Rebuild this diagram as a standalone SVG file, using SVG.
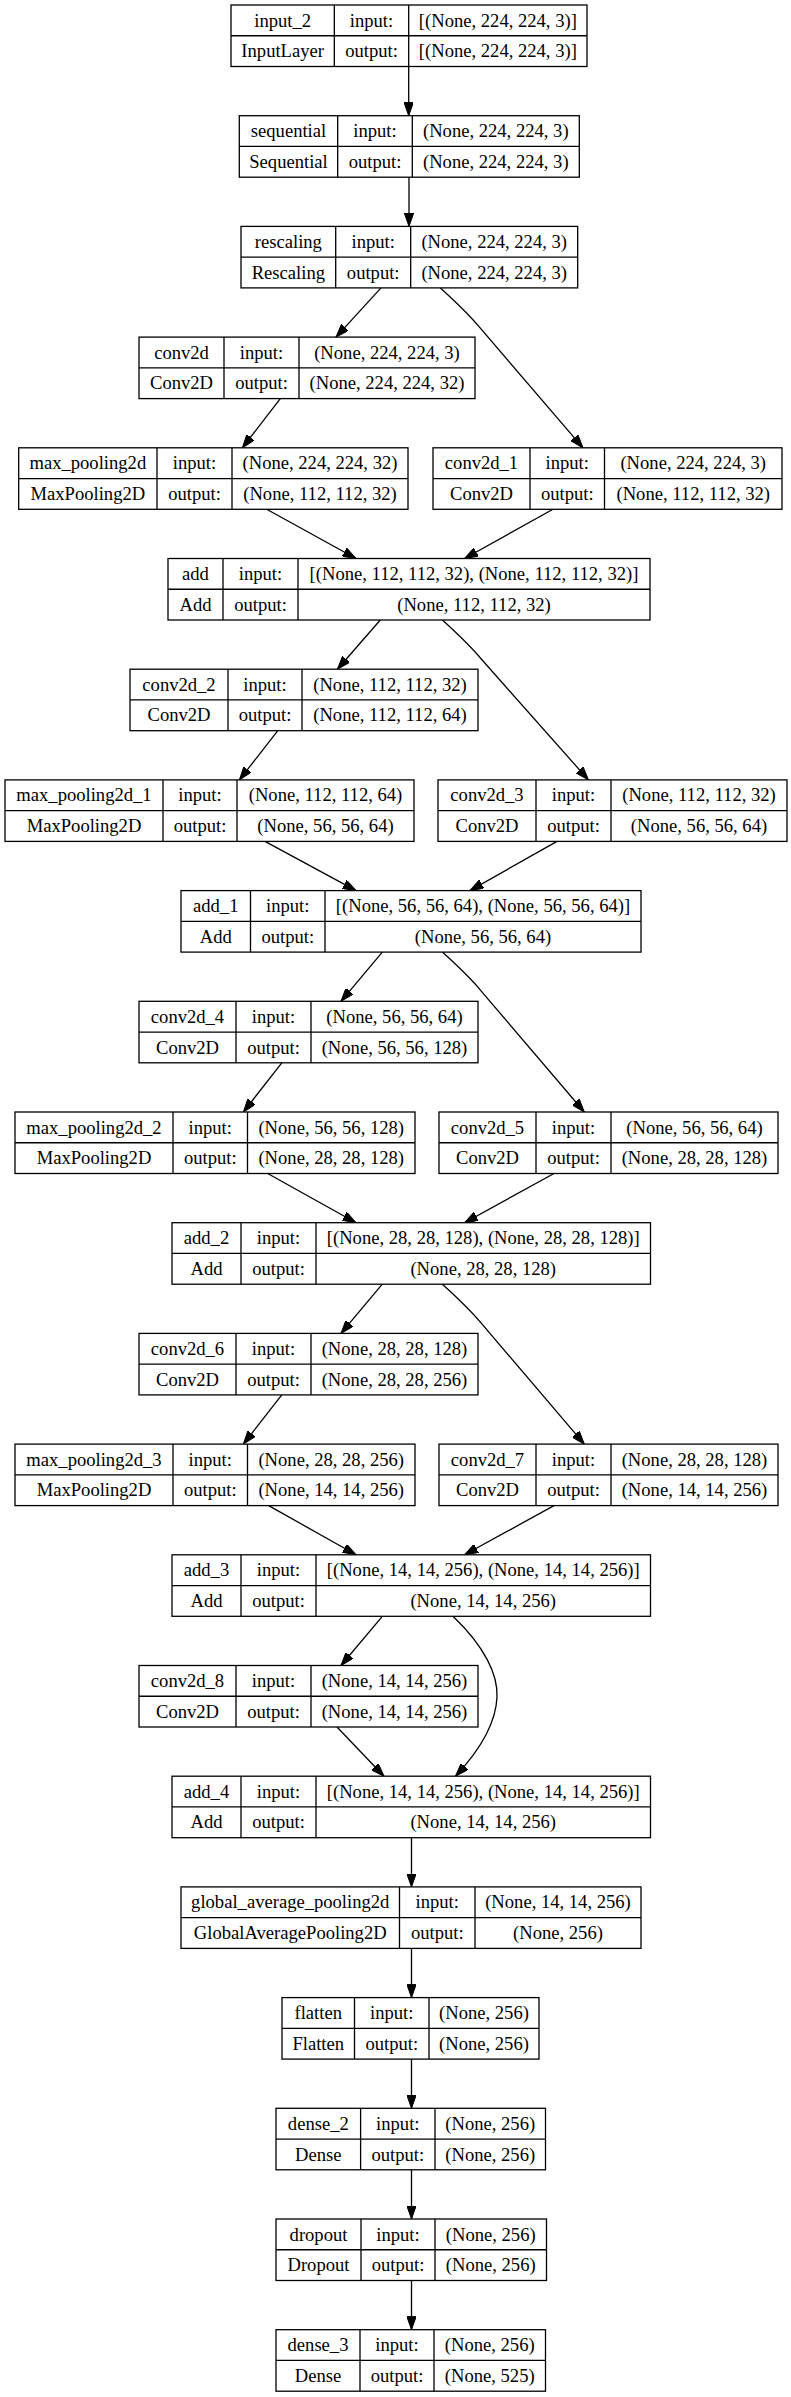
<svg xmlns="http://www.w3.org/2000/svg" width="791" height="2397" viewBox="0 0 791 2397">
<style>
.b{fill:#fff;stroke:#000;stroke-width:1.3}
.l{stroke:#000;stroke-width:1.3;fill:none}
text{font-family:"Liberation Serif","Times New Roman",serif;font-size:18.6px;text-anchor:middle;fill:#000}
.e{fill:none;stroke:#000;stroke-width:1.3;marker-end:url(#a)}
</style>
<defs>
<marker id="a" viewBox="0 0 13.3 9.4" refX="13.3" refY="4.7" markerWidth="13.3" markerHeight="9.4" markerUnits="userSpaceOnUse" orient="auto">
<path d="M0,0 L13.3,4.7 L0,9.4 z" fill="#000" stroke="#000" stroke-width="1"/>
</marker>
</defs>
<rect width="791" height="2397" fill="#fff"/>
<g id="connectors">
<path class="e" d="M408.7,66.5 L408.7,115.7"/>
<path class="e" d="M409,177.2 L409,226.4"/>
<path class="e" d="M381,287.9 L336,337.1"/>
<path class="e" d="M440.4,287.9 C462.4,307.9 468.4,313.9 478.4,325.9 L583,447.8"/>
<path class="e" d="M280.3,398.6 L242.4,447.8"/>
<path class="e" d="M266.7,509.3 L356,558.5"/>
<path class="e" d="M553,509.3 L464.6,558.5"/>
<path class="e" d="M380.3,620 L337.4,669.2"/>
<path class="e" d="M442.4,620 C464.4,640 470.4,646 480.4,658 L588.4,779.9"/>
<path class="e" d="M277.8,730.7 L239.4,779.9"/>
<path class="e" d="M265,841.4 L356,890.6"/>
<path class="e" d="M557,841.4 L470,890.6"/>
<path class="e" d="M382.3,952.1 L341,1001.3"/>
<path class="e" d="M442.4,952.1 C464.4,972.1 470.4,978.1 480.4,990.1 L584.3,1112"/>
<path class="e" d="M281.8,1062.8 L243.4,1112"/>
<path class="e" d="M267.7,1173.5 L356,1222.7"/>
<path class="e" d="M554,1173.5 L464.6,1222.7"/>
<path class="e" d="M382.3,1284.2 L341,1333.4"/>
<path class="e" d="M442.4,1284.2 C464.4,1304.2 470.4,1310.2 480.4,1322.2 L584.3,1444.1"/>
<path class="e" d="M281.8,1394.9 L243.4,1444.1"/>
<path class="e" d="M268.7,1505.6 L356,1554.8"/>
<path class="e" d="M554,1505.6 L464.6,1554.8"/>
<path class="e" d="M382.3,1616.3 L341,1665.5"/>
<path class="e" d="M453,1616.3 C485,1647 498,1675 497,1697 C496,1722 480,1750 455.5,1776.2"/>
<path class="e" d="M337,1727 L384,1776.2"/>
<path class="e" d="M411.5,1837.7 L411.5,1886.9"/>
<path class="e" d="M411.5,1948.4 L411.5,1997.6"/>
<path class="e" d="M411.5,2059.1 L411.5,2108.3"/>
<path class="e" d="M411.5,2169.8 L411.5,2219"/>
<path class="e" d="M411.5,2280.5 L411.5,2329.7"/>
</g>
<g id="input_2" transform="translate(0,5)">
<rect class="b" x="231" y="0" width="356" height="61.5"/>
<path class="l" d="M231,30.75 H587 M334.3,0 V61.5 M408.7,0 V61.5"/>
<text x="282.65" y="21.5">input_2</text><text x="371.5" y="21.5">input:</text><text x="497.85" y="21.5">[(None, 224, 224, 3)]</text>
<text x="282.65" y="52.3">InputLayer</text><text x="371.5" y="52.3">output:</text><text x="497.85" y="52.3">[(None, 224, 224, 3)]</text>
</g>
<g id="sequential" transform="translate(0,115.7)">
<rect class="b" x="239.3" y="0" width="340" height="61.5"/>
<path class="l" d="M239.3,30.75 H579.3 M337.7,0 V61.5 M412.3,0 V61.5"/>
<text x="288.5" y="21.5">sequential</text><text x="375" y="21.5">input:</text><text x="495.8" y="21.5">(None, 224, 224, 3)</text>
<text x="288.5" y="52.3">Sequential</text><text x="375" y="52.3">output:</text><text x="495.8" y="52.3">(None, 224, 224, 3)</text>
</g>
<g id="rescaling" transform="translate(0,226.4)">
<rect class="b" x="241" y="0" width="336.7" height="61.5"/>
<path class="l" d="M241,30.75 H577.7 M335.7,0 V61.5 M410.7,0 V61.5"/>
<text x="288.35" y="21.5">rescaling</text><text x="373.2" y="21.5">input:</text><text x="494.2" y="21.5">(None, 224, 224, 3)</text>
<text x="288.35" y="52.3">Rescaling</text><text x="373.2" y="52.3">output:</text><text x="494.2" y="52.3">(None, 224, 224, 3)</text>
</g>
<g id="conv2d" transform="translate(0,337.1)">
<rect class="b" x="139" y="0" width="336" height="61.5"/>
<path class="l" d="M139,30.75 H475 M224,0 V61.5 M299,0 V61.5"/>
<text x="181.5" y="21.5">conv2d</text><text x="261.5" y="21.5">input:</text><text x="387" y="21.5">(None, 224, 224, 3)</text>
<text x="181.5" y="52.3">Conv2D</text><text x="261.5" y="52.3">output:</text><text x="387" y="52.3">(None, 224, 224, 32)</text>
</g>
<g id="max_pooling2d" transform="translate(0,447.8)">
<rect class="b" x="18.7" y="0" width="389.3" height="61.5"/>
<path class="l" d="M18.7,30.75 H408 M157,0 V61.5 M232,0 V61.5"/>
<text x="87.85" y="21.5">max_pooling2d</text><text x="194.5" y="21.5">input:</text><text x="320" y="21.5">(None, 224, 224, 32)</text>
<text x="87.85" y="52.3">MaxPooling2D</text><text x="194.5" y="52.3">output:</text><text x="320" y="52.3">(None, 112, 112, 32)</text>
</g>
<g id="conv2d_1" transform="translate(0,447.8)">
<rect class="b" x="433" y="0" width="349" height="61.5"/>
<path class="l" d="M433,30.75 H782 M530,0 V61.5 M604.5,0 V61.5"/>
<text x="481.5" y="21.5">conv2d_1</text><text x="567.25" y="21.5">input:</text><text x="693.25" y="21.5">(None, 224, 224, 3)</text>
<text x="481.5" y="52.3">Conv2D</text><text x="567.25" y="52.3">output:</text><text x="693.25" y="52.3">(None, 112, 112, 32)</text>
</g>
<g id="add" transform="translate(0,558.5)">
<rect class="b" x="168" y="0" width="482" height="61.5"/>
<path class="l" d="M168,30.75 H650 M223,0 V61.5 M298,0 V61.5"/>
<text x="195.5" y="21.5">add</text><text x="260.5" y="21.5">input:</text><text x="474" y="21.5">[(None, 112, 112, 32), (None, 112, 112, 32)]</text>
<text x="195.5" y="52.3">Add</text><text x="260.5" y="52.3">output:</text><text x="474" y="52.3">(None, 112, 112, 32)</text>
</g>
<g id="conv2d_2" transform="translate(0,669.2)">
<rect class="b" x="130" y="0" width="348" height="61.5"/>
<path class="l" d="M130,30.75 H478 M228,0 V61.5 M302,0 V61.5"/>
<text x="179" y="21.5">conv2d_2</text><text x="265" y="21.5">input:</text><text x="390" y="21.5">(None, 112, 112, 32)</text>
<text x="179" y="52.3">Conv2D</text><text x="265" y="52.3">output:</text><text x="390" y="52.3">(None, 112, 112, 64)</text>
</g>
<g id="max_pooling2d_1" transform="translate(0,779.9)">
<rect class="b" x="5" y="0" width="409" height="61.5"/>
<path class="l" d="M5,30.75 H414 M163,0 V61.5 M237,0 V61.5"/>
<text x="84" y="21.5">max_pooling2d_1</text><text x="200" y="21.5">input:</text><text x="325.5" y="21.5">(None, 112, 112, 64)</text>
<text x="84" y="52.3">MaxPooling2D</text><text x="200" y="52.3">output:</text><text x="325.5" y="52.3">(None, 56, 56, 64)</text>
</g>
<g id="conv2d_3" transform="translate(0,779.9)">
<rect class="b" x="438" y="0" width="349" height="61.5"/>
<path class="l" d="M438,30.75 H787 M536,0 V61.5 M611,0 V61.5"/>
<text x="487" y="21.5">conv2d_3</text><text x="573.5" y="21.5">input:</text><text x="699" y="21.5">(None, 112, 112, 32)</text>
<text x="487" y="52.3">Conv2D</text><text x="573.5" y="52.3">output:</text><text x="699" y="52.3">(None, 56, 56, 64)</text>
</g>
<g id="add_1" transform="translate(0,890.6)">
<rect class="b" x="181" y="0" width="460" height="61.5"/>
<path class="l" d="M181,30.75 H641 M250.5,0 V61.5 M325,0 V61.5"/>
<text x="215.75" y="21.5">add_1</text><text x="287.75" y="21.5">input:</text><text x="483" y="21.5">[(None, 56, 56, 64), (None, 56, 56, 64)]</text>
<text x="215.75" y="52.3">Add</text><text x="287.75" y="52.3">output:</text><text x="483" y="52.3">(None, 56, 56, 64)</text>
</g>
<g id="conv2d_4" transform="translate(0,1001.3)">
<rect class="b" x="139" y="0" width="339" height="61.5"/>
<path class="l" d="M139,30.75 H478 M236,0 V61.5 M311,0 V61.5"/>
<text x="187.5" y="21.5">conv2d_4</text><text x="273.5" y="21.5">input:</text><text x="394.5" y="21.5">(None, 56, 56, 64)</text>
<text x="187.5" y="52.3">Conv2D</text><text x="273.5" y="52.3">output:</text><text x="394.5" y="52.3">(None, 56, 56, 128)</text>
</g>
<g id="max_pooling2d_2" transform="translate(0,1112)">
<rect class="b" x="15" y="0" width="400" height="61.5"/>
<path class="l" d="M15,30.75 H415 M173,0 V61.5 M247.5,0 V61.5"/>
<text x="94" y="21.5">max_pooling2d_2</text><text x="210.25" y="21.5">input:</text><text x="331.25" y="21.5">(None, 56, 56, 128)</text>
<text x="94" y="52.3">MaxPooling2D</text><text x="210.25" y="52.3">output:</text><text x="331.25" y="52.3">(None, 28, 28, 128)</text>
</g>
<g id="conv2d_5" transform="translate(0,1112)">
<rect class="b" x="439" y="0" width="339" height="61.5"/>
<path class="l" d="M439,30.75 H778 M536,0 V61.5 M611,0 V61.5"/>
<text x="487.5" y="21.5">conv2d_5</text><text x="573.5" y="21.5">input:</text><text x="694.5" y="21.5">(None, 56, 56, 64)</text>
<text x="487.5" y="52.3">Conv2D</text><text x="573.5" y="52.3">output:</text><text x="694.5" y="52.3">(None, 28, 28, 128)</text>
</g>
<g id="add_2" transform="translate(0,1222.7)">
<rect class="b" x="172" y="0" width="478.5" height="61.5"/>
<path class="l" d="M172,30.75 H650.5 M241,0 V61.5 M316,0 V61.5"/>
<text x="206.5" y="21.5">add_2</text><text x="278.5" y="21.5">input:</text><text x="483.25" y="21.5">[(None, 28, 28, 128), (None, 28, 28, 128)]</text>
<text x="206.5" y="52.3">Add</text><text x="278.5" y="52.3">output:</text><text x="483.25" y="52.3">(None, 28, 28, 128)</text>
</g>
<g id="conv2d_6" transform="translate(0,1333.4)">
<rect class="b" x="139" y="0" width="339" height="61.5"/>
<path class="l" d="M139,30.75 H478 M236,0 V61.5 M311,0 V61.5"/>
<text x="187.5" y="21.5">conv2d_6</text><text x="273.5" y="21.5">input:</text><text x="394.5" y="21.5">(None, 28, 28, 128)</text>
<text x="187.5" y="52.3">Conv2D</text><text x="273.5" y="52.3">output:</text><text x="394.5" y="52.3">(None, 28, 28, 256)</text>
</g>
<g id="max_pooling2d_3" transform="translate(0,1444.1)">
<rect class="b" x="15" y="0" width="400" height="61.5"/>
<path class="l" d="M15,30.75 H415 M173,0 V61.5 M247.5,0 V61.5"/>
<text x="94" y="21.5">max_pooling2d_3</text><text x="210.25" y="21.5">input:</text><text x="331.25" y="21.5">(None, 28, 28, 256)</text>
<text x="94" y="52.3">MaxPooling2D</text><text x="210.25" y="52.3">output:</text><text x="331.25" y="52.3">(None, 14, 14, 256)</text>
</g>
<g id="conv2d_7" transform="translate(0,1444.1)">
<rect class="b" x="439" y="0" width="339" height="61.5"/>
<path class="l" d="M439,30.75 H778 M536,0 V61.5 M611,0 V61.5"/>
<text x="487.5" y="21.5">conv2d_7</text><text x="573.5" y="21.5">input:</text><text x="694.5" y="21.5">(None, 28, 28, 128)</text>
<text x="487.5" y="52.3">Conv2D</text><text x="573.5" y="52.3">output:</text><text x="694.5" y="52.3">(None, 14, 14, 256)</text>
</g>
<g id="add_3" transform="translate(0,1554.8)">
<rect class="b" x="172" y="0" width="478.5" height="61.5"/>
<path class="l" d="M172,30.75 H650.5 M241,0 V61.5 M316,0 V61.5"/>
<text x="206.5" y="21.5">add_3</text><text x="278.5" y="21.5">input:</text><text x="483.25" y="21.5">[(None, 14, 14, 256), (None, 14, 14, 256)]</text>
<text x="206.5" y="52.3">Add</text><text x="278.5" y="52.3">output:</text><text x="483.25" y="52.3">(None, 14, 14, 256)</text>
</g>
<g id="conv2d_8" transform="translate(0,1665.5)">
<rect class="b" x="139" y="0" width="339" height="61.5"/>
<path class="l" d="M139,30.75 H478 M236,0 V61.5 M311,0 V61.5"/>
<text x="187.5" y="21.5">conv2d_8</text><text x="273.5" y="21.5">input:</text><text x="394.5" y="21.5">(None, 14, 14, 256)</text>
<text x="187.5" y="52.3">Conv2D</text><text x="273.5" y="52.3">output:</text><text x="394.5" y="52.3">(None, 14, 14, 256)</text>
</g>
<g id="add_4" transform="translate(0,1776.2)">
<rect class="b" x="172" y="0" width="478.5" height="61.5"/>
<path class="l" d="M172,30.75 H650.5 M241,0 V61.5 M316,0 V61.5"/>
<text x="206.5" y="21.5">add_4</text><text x="278.5" y="21.5">input:</text><text x="483.25" y="21.5">[(None, 14, 14, 256), (None, 14, 14, 256)]</text>
<text x="206.5" y="52.3">Add</text><text x="278.5" y="52.3">output:</text><text x="483.25" y="52.3">(None, 14, 14, 256)</text>
</g>
<g id="global_average_pooling2d" transform="translate(0,1886.9)">
<rect class="b" x="181" y="0" width="460" height="61.5"/>
<path class="l" d="M181,30.75 H641 M399.5,0 V61.5 M475,0 V61.5"/>
<text x="290.25" y="21.5">global_average_pooling2d</text><text x="437.25" y="21.5">input:</text><text x="558" y="21.5">(None, 14, 14, 256)</text>
<text x="290.25" y="52.3">GlobalAveragePooling2D</text><text x="437.25" y="52.3">output:</text><text x="558" y="52.3">(None, 256)</text>
</g>
<g id="flatten" transform="translate(0,1997.6)">
<rect class="b" x="282" y="0" width="257" height="61.5"/>
<path class="l" d="M282,30.75 H539 M354.5,0 V61.5 M429,0 V61.5"/>
<text x="318.25" y="21.5">flatten</text><text x="391.75" y="21.5">input:</text><text x="484" y="21.5">(None, 256)</text>
<text x="318.25" y="52.3">Flatten</text><text x="391.75" y="52.3">output:</text><text x="484" y="52.3">(None, 256)</text>
</g>
<g id="dense_2" transform="translate(0,2108.3)">
<rect class="b" x="276" y="0" width="269.5" height="61.5"/>
<path class="l" d="M276,30.75 H545.5 M360.6,0 V61.5 M435,0 V61.5"/>
<text x="318.3" y="21.5">dense_2</text><text x="397.8" y="21.5">input:</text><text x="490.25" y="21.5">(None, 256)</text>
<text x="318.3" y="52.3">Dense</text><text x="397.8" y="52.3">output:</text><text x="490.25" y="52.3">(None, 256)</text>
</g>
<g id="dropout" transform="translate(0,2219)">
<rect class="b" x="276" y="0" width="270.5" height="61.5"/>
<path class="l" d="M276,30.75 H546.5 M361,0 V61.5 M435,0 V61.5"/>
<text x="318.5" y="21.5">dropout</text><text x="398" y="21.5">input:</text><text x="490.75" y="21.5">(None, 256)</text>
<text x="318.5" y="52.3">Dropout</text><text x="398" y="52.3">output:</text><text x="490.75" y="52.3">(None, 256)</text>
</g>
<g id="dense_3" transform="translate(0,2329.7)">
<rect class="b" x="276" y="0" width="269.5" height="61.5"/>
<path class="l" d="M276,30.75 H545.5 M360,0 V61.5 M434,0 V61.5"/>
<text x="318" y="21.5">dense_3</text><text x="397" y="21.5">input:</text><text x="489.75" y="21.5">(None, 256)</text>
<text x="318" y="52.3">Dense</text><text x="397" y="52.3">output:</text><text x="489.75" y="52.3">(None, 525)</text>
</g>
</svg>
